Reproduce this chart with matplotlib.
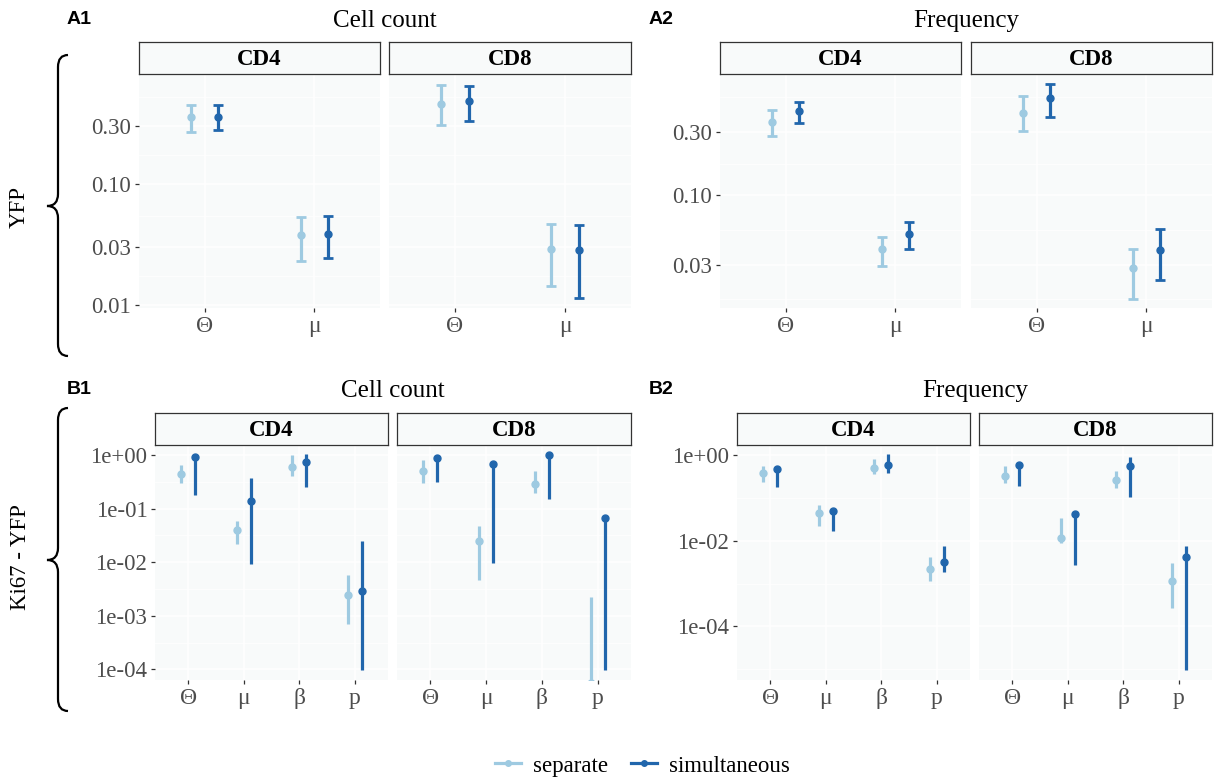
import matplotlib
matplotlib.use('Agg')
import matplotlib.pyplot as plt
from matplotlib.path import Path
from matplotlib.patches import PathPatch
from matplotlib.lines import Line2D
from matplotlib.ticker import NullLocator
import numpy as np

plt.rcParams['font.family'] = ['Liberation Serif', 'DejaVu Serif']

W, H = 1214, 782
sep_col = '#9ECAE1'
sim_col = '#2166AC'
panel_bg = '#F8FAFA'

methods = ['separate', 'simultaneous']
params_A = ['Θ', 'μ']
params_B = ['Θ', 'μ', 'β', 'p']

# (estimate, lower, upper) per parameter
a1_cd4_sep = [(0.351, 0.268, 0.447), (0.0377, 0.0231, 0.0528)]
a1_cd4_sim = [(0.353, 0.278, 0.447), (0.0384, 0.0247, 0.0544)]
a1_cd8_sep = [(0.456, 0.306, 0.654), (0.0289, 0.0144, 0.047)]
a1_cd8_sim = [(0.476, 0.326, 0.633), (0.0286, 0.0115, 0.0456)]

a2_cd4_sep = [(0.357, 0.28, 0.44), (0.0394, 0.0291, 0.0482)]
a2_cd4_sim = [(0.428, 0.349, 0.505), (0.0506, 0.039, 0.063)]
a2_cd8_sep = [(0.42, 0.305, 0.555), (0.0283, 0.0165, 0.0396)]
a2_cd8_sim = [(0.539, 0.392, 0.687), (0.0385, 0.0228, 0.0558)]

b1_cd4_sep = [(0.45, 0.30, 0.65), (0.0394, 0.0222, 0.058), (0.605, 0.404, 1.0), (0.00246, 0.000705, 0.00582)]
b1_cd4_sim = [(0.93, 0.176, 0.99), (0.138, 0.00936, 0.366), (0.75, 0.255, 1.03), (0.00292, 9.7e-5, 0.0245)]
b1_cd8_sep = [(0.50, 0.30, 0.806), (0.0245, 0.00457, 0.047), (0.29, 0.197, 0.5), (5.5e-5, 1e-7, 0.00222)]
b1_cd8_sim = [(0.89, 0.316, 1.0), (0.669, 0.00964, 0.72), (0.99, 0.148, 1.03), (0.067, 9.7e-5, 0.072)]

b2_cd4_sep = [(0.372, 0.233, 0.553), (0.0432, 0.0218, 0.0676), (0.506, 0.353, 0.792), (0.00223, 0.00117, 0.00419)]
b2_cd4_sim = [(0.479, 0.182, 0.53), (0.049, 0.0173, 0.053), (0.583, 0.386, 1.07), (0.00314, 0.00183, 0.0077)]
b2_cd8_sep = [(0.323, 0.225, 0.553), (0.01165, 0.0089, 0.0342), (0.26, 0.166, 0.42), (0.00113, 0.000268, 0.00303)]
b2_cd8_sim = [(0.583, 0.188, 0.64), (0.041, 0.00277, 0.045), (0.553, 0.104, 0.914), (0.0041, 9.7e-6, 0.0074)]

a1_ticks = [0.01, 0.03, 0.1, 0.3]
a1_labels = ['0.01', '0.03', '0.10', '0.30']
a2_ticks = [0.03, 0.1, 0.3]
a2_labels = ['0.03', '0.10', '0.30']
b1_ticks = [1e-4, 1e-3, 1e-2, 1e-1, 1]
b1_labels = ['1e-04', '1e-03', '1e-02', '1e-01', '1e+00']
b2_ticks = [1e-4, 1e-2, 1]
b2_labels = ['1e-04', '1e-02', '1e+00']


def px_axes(fig, x0, y0, x1, y1):
  return fig.add_axes([x0 / W, 1 - y1 / H, (x1 - x0) / W, (y1 - y0) / H])


def minor_breaks(ticks, lo, hi):
  lt = np.log10(ticks)
  step = lt[1] - lt[0]
  ext = np.concatenate([[lt[0] - step], lt, [lt[-1] + step]])
  mids = 10 ** ((ext[:-1] + ext[1:]) / 2)
  return [m for m in mids if lo < m < hi]


def draw_panel(ax, params, sep, sim, ylim, ticks, labels, show_y, caps):
  x = np.arange(len(params))
  ax.set_facecolor(panel_bg)
  for t in ticks:
    ax.axhline(t, color='white', lw=1.1, zorder=0.5)
  for m in minor_breaks(ticks, *ylim):
    ax.axhline(m, color='white', lw=0.55, zorder=0.5)
  for xi in x:
    ax.axvline(xi, color='white', lw=1.1, zorder=0.5)
  for rows, off, col in ((sep, -0.125, sep_col), (sim, 0.125, sim_col)):
    est = np.array([r[0] for r in rows])
    lo = np.array([r[1] for r in rows])
    hi = np.array([r[2] for r in rows])
    ax.errorbar(x + off, est, yerr=[est - lo, hi - est], fmt='o', color=col,
                ms=5, elinewidth=2.3, capsize=3.5 if caps else 0,
                capthick=2.0, zorder=3)
  ax.set_yscale('log')
  ax.set_ylim(ylim)
  ax.set_xlim(-0.6, len(params) - 0.4)
  ax.set_xticks(x)
  ax.set_xticklabels(params, fontsize=17)
  ax.yaxis.set_minor_locator(NullLocator())
  ax.set_yticks(ticks)
  ax.set_yticklabels(labels if show_y else [])
  ax.tick_params(axis='both', length=3, width=0.9, color='#333333',
                 labelcolor='#4D4D4D', pad=2.5)
  ax.tick_params(axis='y', labelsize=16.5)
  if not show_y:
    ax.tick_params(axis='y', length=0)
  for s in ax.spines.values():
    s.set_visible(False)


def draw_strip(fig, x0, x1, y0, y1, label):
  sa = px_axes(fig, x0, y0, x1, y1)
  sa.set_facecolor(panel_bg)
  sa.set_xticks([])
  sa.set_yticks([])
  for s in sa.spines.values():
    s.set_color('#333333')
    s.set_linewidth(0.9)
  sa.text(0.5, 0.45, label, ha='center', va='center', fontsize=16.5,
          fontweight='bold', transform=sa.transAxes)


fig = plt.figure(figsize=(W / 100, H / 100), dpi=100)

# panel geometry in pixels: (x0, x1) for CD4 and CD8, strip top, panel top, panel bottom
rows = [
  (((139, 380), (389, 631)), (42, 74, 308), params_A, a1_cd4_sep, a1_cd4_sim, a1_cd8_sep, a1_cd8_sim,
   (0.0095, 0.80), a1_ticks, a1_labels, True),
  (((720, 961), (971, 1212)), (42, 74, 308), params_A, a2_cd4_sep, a2_cd4_sim, a2_cd8_sep, a2_cd8_sim,
   (0.0141, 0.82), a2_ticks, a2_labels, True),
  (((155, 388), (397, 631)), (413, 445, 680), params_B, b1_cd4_sep, b1_cd4_sim, b1_cd8_sep, b1_cd8_sim,
   (10 ** -4.2, 1.54), b1_ticks, b1_labels, False),
  (((737, 970), (979, 1212)), (413, 445, 680), params_B, b2_cd4_sep, b2_cd4_sim, b2_cd8_sep, b2_cd8_sim,
   (10 ** -5.25, 1.71), b2_ticks, b2_labels, False),
]

for xs, ys, params, c4s, c4m, c8s, c8m, ylim, ticks, labels, caps in rows:
  st, pt, pb = ys
  for i, (sub, sep, sim) in enumerate((('CD4', c4s, c4m), ('CD8', c8s, c8m))):
    x0, x1 = xs[i]
    ax = px_axes(fig, x0, pt, x1, pb)
    draw_panel(ax, params, sep, sim, ylim, ticks, labels, i == 0, caps)
    draw_strip(fig, x0, x1, st, pt, sub)

# overlay for titles, tags and braces
ov = fig.add_axes([0, 0, 1, 1])
ov.set_xlim(0, W)
ov.set_ylim(H, 0)
ov.axis('off')

for tag, tx, ty in (('A1', 67, 20), ('A2', 649, 20), ('B1', 67, 390), ('B2', 649, 390)):
  ov.text(tx, ty, tag, ha='left', va='center', fontsize=14, fontweight='bold',
          family=['Liberation Sans', 'DejaVu Sans'])
for title, tx, ty in (('Cell count', 385, 21), ('Frequency', 966, 21),
                      ('Cell count', 393, 391), ('Frequency', 975, 391)):
  ov.text(tx, ty, title, ha='center', va='center', fontsize=18)

ov.text(19, 207, 'YFP', rotation=90, ha='center', va='center', fontsize=16.5)
ov.text(21, 557, 'Ki67 - YFP', rotation=90, ha='center', va='center', fontsize=16.5)


def brace(x_tip, x_line, x_end, y_top, y_tip, y_bot):
  r = 12
  verts = [(x_end, y_top), (x_line, y_top), (x_line, y_top + r),
           (x_line, y_tip - r), (x_line, y_tip), (x_tip, y_tip),
           (x_line, y_tip), (x_line, y_tip + r),
           (x_line, y_bot - r), (x_line, y_bot), (x_end, y_bot)]
  codes = [Path.MOVETO, Path.CURVE3, Path.CURVE3, Path.LINETO, Path.CURVE3, Path.CURVE3,
           Path.CURVE3, Path.CURVE3, Path.LINETO, Path.CURVE3, Path.CURVE3]
  ov.add_patch(PathPatch(Path(verts, codes), fc='none', ec='black', lw=1.6))


brace(47, 58, 68, 55, 206, 356)
brace(47, 58, 68, 408, 560, 711)

handles = [Line2D([0], [0], color=sep_col, lw=2.3, marker='o', ms=4),
           Line2D([0], [0], color=sim_col, lw=2.3, marker='o', ms=4)]
fig.legend(handles, methods, loc='center', bbox_to_anchor=(0.529, 1 - 766 / H), ncol=2,
           frameon=False, fontsize=16.5, handlelength=1.15, columnspacing=1.0,
           handletextpad=0.5)

fig.savefig('out.png', dpi=100)
